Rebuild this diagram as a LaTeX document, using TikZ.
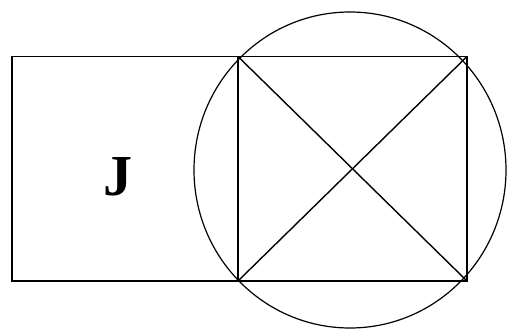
\documentclass[tikz,border=0pt]{standalone}
\usepackage{fontspec}
\setmainfont{Liberation Serif}
\usetikzlibrary{positioning}

\begin{document}
\begin{tikzpicture}[x=1pt,y=1pt,line width=1.4pt,
		shape line/.style={black,line join=miter}]
		\useasboundingbox (0,0) rectangle (508,330);
		% corners
		\coordinate (ll) at (12,49);
		\coordinate (lt) at (12,273.5);
		\coordinate (sl) at (238,49);
		\coordinate (st) at (238,273.5);
		\coordinate (sr) at (467,49);
		\coordinate (rt) at (467,273.5);
		% left rectangle and square
		\draw[shape line] (ll) rectangle (st);
		\draw[shape line] (sl) rectangle (rt);
		% diagonals of the square
		\draw[shape line] (sl) -- (rt);
		\draw[shape line] (st) -- (sr);
		% circle round the square
		\draw[shape line,line width=1.2pt] (350,160) ellipse (156 and 158);
		% label
		\node (lab) at (118,153) {\fontsize{58}{60}\selectfont\bfseries J};
	\end{tikzpicture}
\end{document}
